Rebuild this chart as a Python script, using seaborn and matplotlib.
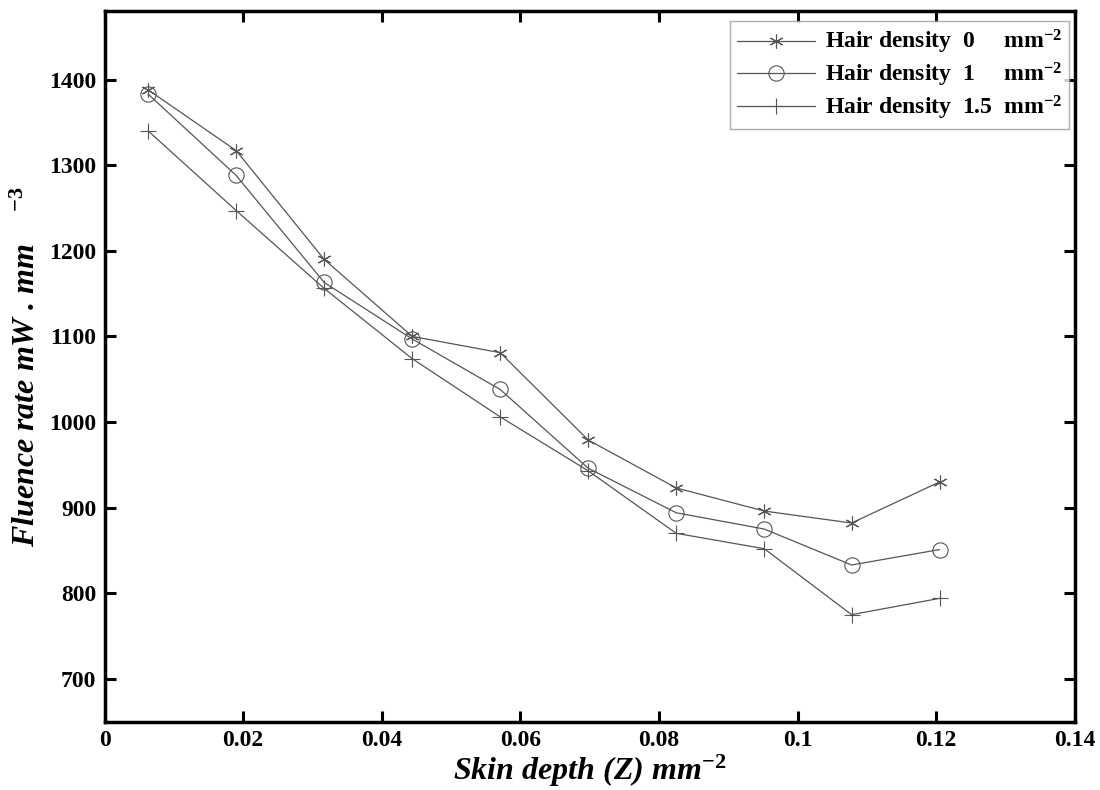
import numpy as np
import pandas as pd
import matplotlib
matplotlib.use("Agg")
import matplotlib.pyplot as plt
import seaborn as sns

sns.set_style("white")
plt.rcParams['font.family'] = ['Liberation Serif', 'DejaVu Serif']
plt.rcParams['mathtext.fontset'] = 'custom'
plt.rcParams['mathtext.rm'] = 'Liberation Serif:bold'
plt.rcParams['mathtext.it'] = 'Liberation Serif:bold:italic'
plt.rcParams['mathtext.bf'] = 'Liberation Serif:bold'
plt.rcParams['text.color'] = 'black'
plt.rcParams['axes.labelcolor'] = 'black'
plt.rcParams['xtick.color'] = 'black'
plt.rcParams['ytick.color'] = 'black'

# skin depth positions
depth = [0.0063, 0.0190, 0.0317, 0.0444, 0.0571, 0.0698, 0.0825, 0.0952, 0.1078, 0.1205]

# fluence rate for each hair density
fluence_d0 = [1388, 1317, 1190, 1100, 1081, 979, 923, 896, 882, 930]
fluence_d1 = [1383, 1288, 1163, 1097, 1038, 946, 894, 875, 833, 851]
fluence_d15 = [1340, 1247, 1156, 1074, 1006, 943, 870, 852, 775, 794]

labels = ['Hair density  0     mm$^{-2}$',
          'Hair density  1     mm$^{-2}$',
          'Hair density  1.5  mm$^{-2}$']
# asterisk, open circle, plus
markers = [(6, 2, 0), 'o', '+']
sizes = [10, 11, 12]
series = [fluence_d0, fluence_d1, fluence_d15]

fig = plt.figure(figsize=(11, 7.9), dpi=100)
ax = fig.add_axes([0.095, 0.0865, 0.882, 0.8995])

line_color = '#555555'
for vals, lab, mk, ms in zip(series, labels, markers, sizes):
    df = pd.DataFrame({'depth': depth, 'fluence': vals})
    sns.lineplot(data=df, x='depth', y='fluence', ax=ax, color=line_color,
                 linewidth=0.9, marker=mk, markersize=ms,
                 markerfacecolor='none', markeredgecolor=line_color,
                 markeredgewidth=0.8, label=lab)

ax.set_xlim(0, 0.14)
ax.set_ylim(650, 1480)
ax.set_xticks(np.arange(0, 0.141, 0.02))
ax.set_xticklabels(['0', '0.02', '0.04', '0.06', '0.08', '0.1', '0.12', '0.14'])
ax.set_yticks(np.arange(700, 1401, 100))

ax.tick_params(direction='in', length=8, width=2.2, top=True, right=True,
               bottom=True, left=True, labelsize=17, pad=6)
for lbl in ax.get_xticklabels() + ax.get_yticklabels():
    lbl.set_fontweight('bold')
for sp in ax.spines.values():
    sp.set_visible(True)
    sp.set_color('black')
    sp.set_linewidth(2.5)

ax.set_xlabel('Skin depth (Z) mm$^{-2}$', fontsize=23, fontweight='bold',
              fontstyle='italic', labelpad=1)
ax.set_ylabel('Fluence rate mW . mm    ${}^{-3}$', fontsize=23, fontweight='bold',
              fontstyle='italic', labelpad=5)

leg = ax.legend(loc='upper right', bbox_to_anchor=(0.994, 0.986), borderaxespad=0,
                prop={'weight': 'bold', 'size': 17}, frameon=True,
                fancybox=False, edgecolor='#999999', handlelength=3.3,
                handletextpad=0.4, labelspacing=0.2, borderpad=0.3)
leg.get_frame().set_linewidth(1.0)
for t in leg.get_texts():
    t.set_color('black')

fig.savefig('out.png', dpi=100)
